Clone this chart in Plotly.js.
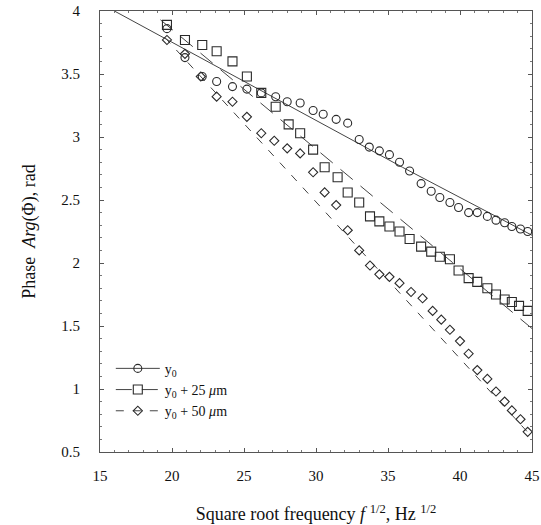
<!DOCTYPE html>
<html>
<head>
<meta charset="utf-8">
<script src="https://cdn.plot.ly/plotly-3.0.1.min.js"></script>
<style>html,body{margin:0;padding:0;background:#fff;}#chart{width:541px;height:525px;}</style>
</head>
<body>
<div id="chart"></div>
<script>
// Measured data: y0 (circles)
var x0 = [19.65, 20.9, 22.1, 23.1, 24.2, 25.2, 26.2, 27.2, 28.0, 28.9, 29.8, 30.5, 31.4, 32.2, 33.0, 33.7, 34.4, 35.1, 35.8, 36.5, 37.3, 38.0, 38.6, 39.3, 39.9, 40.6, 41.2, 41.9, 42.5, 43.1, 43.6, 44.2, 44.7];
var y0 = [3.86, 3.63, 3.48, 3.44, 3.40, 3.38, 3.35, 3.32, 3.28, 3.27, 3.21, 3.18, 3.14, 3.11, 2.98, 2.92, 2.89, 2.86, 2.80, 2.73, 2.63, 2.57, 2.52, 2.48, 2.44, 2.40, 2.40, 2.37, 2.34, 2.32, 2.29, 2.27, 2.25];
// y0 + 25 um (squares)
var x25 = [19.65, 20.9, 22.1, 23.1, 24.2, 25.2, 26.2, 27.2, 28.1, 28.9, 29.8, 30.6, 31.5, 32.2, 33.0, 33.75, 34.4, 35.1, 35.8, 36.5, 37.3, 38.0, 38.6, 39.3, 39.9, 40.6, 41.2, 41.9, 42.5, 43.1, 43.6, 44.1, 44.7];
var y25 = [3.89, 3.77, 3.73, 3.68, 3.60, 3.48, 3.35, 3.24, 3.10, 3.03, 2.90, 2.76, 2.68, 2.56, 2.48, 2.37, 2.33, 2.29, 2.25, 2.19, 2.13, 2.09, 2.05, 2.03, 1.94, 1.88, 1.85, 1.80, 1.75, 1.71, 1.69, 1.66, 1.62];
// y0 + 50 um (diamonds)
var x50 = [19.65, 20.9, 22.0, 23.1, 24.2, 25.2, 26.2, 27.1, 28.0, 28.9, 29.8, 30.6, 31.4, 32.2, 33.0, 33.75, 34.4, 35.1, 35.8, 36.6, 37.4, 38.1, 38.7, 39.3, 40.0, 40.6, 41.2, 41.9, 42.5, 43.1, 43.6, 44.2, 44.7];
var y50 = [3.77, 3.66, 3.48, 3.32, 3.28, 3.16, 3.03, 2.97, 2.91, 2.87, 2.72, 2.56, 2.46, 2.26, 2.10, 1.98, 1.91, 1.89, 1.84, 1.77, 1.72, 1.62, 1.55, 1.47, 1.38, 1.28, 1.15, 1.08, 0.98, 0.90, 0.83, 0.76, 0.66];
// Model (fit) curves
var fitX0 = [16, 30, 36, 45];
var fitY0 = [4.0, 3.13, 2.76, 2.22];
var fitX25 = [19.2, 45];
var fitY25 = [3.93, 1.48];
var fitX50 = [19.5, 45];
var fitY50 = [3.79, 0.62];
var names = ['y<sub>0</sub>', 'y<sub>0</sub> + 25 <i>μ</i>m', 'y<sub>0</sub> + 50 <i>μ</i>m'];

var ink = '#2a2a2a';
var serif = 'Liberation Serif, Times New Roman, serif';
var symbols = ['circle-open', 'square-open', 'diamond-open'];
var sizes = [8, 9, 7];
var dashes = ['solid', '16px,10px', '8px,9px'];
var xs = [x0, x25, x50], ys = [y0, y25, y50];
var fxs = [fitX0, fitX25, fitX50], fys = [fitY0, fitY25, fitY50];

var traces = [];
for (var i = 0; i < 3; i++) {
  traces.push({x: fxs[i], y: fys[i], mode: 'lines', showlegend: false,
    line: {color: '#444', width: 1, dash: dashes[i]}, hoverinfo: 'skip'});
  traces.push({x: xs[i], y: ys[i], mode: 'markers', showlegend: false,
    marker: {symbol: symbols[i], size: sizes[i], color: ink, line: {width: 1.1, color: ink}}});
}
for (var j = 0; j < 3; j++) {
  traces.push({x: [null], y: [null], mode: 'lines+markers', name: names[j],
    line: {color: '#444', width: 1, dash: dashes[j]},
    marker: {symbol: symbols[j], size: sizes[j], color: ink, line: {width: 1.1, color: ink}}});
}

var layout = {
  width: 541, height: 525,
  margin: {l: 100, r: 9, t: 11, b: 73},
  paper_bgcolor: '#fff', plot_bgcolor: '#fff',
  font: {family: serif, color: '#111', size: 14},
  showlegend: true,
  legend: {x: 0.025, y: 0.225, xanchor: 'left', yanchor: 'top', bgcolor: 'rgba(0,0,0,0)',
    font: {family: serif, size: 14, color: '#111'}, tracegroupgap: 0, itemwidth: 44},
  xaxis: {range: [15, 45], dtick: 5, tick0: 15, ticks: 'inside', ticklen: 4, tickcolor: '#555',
    showline: true, linecolor: '#555', linewidth: 1, mirror: 'ticks', showgrid: false, zeroline: false,
    minor: {dtick: 1, ticks: 'inside', ticklen: 2, tickcolor: '#777'},
    tickfont: {family: serif, size: 15, color: '#111'}, ticklabelstandoff: 10,
    title: {text: 'Square root frequency <i>f</i> <sup>1/2</sup>, Hz <sup>1/2</sup>', font: {family: serif, size: 18, color: '#111'}, standoff: 24}},
  yaxis: {range: [0.5, 4], dtick: 0.5, tick0: 0.5, ticks: 'inside', ticklen: 4, tickcolor: '#555',
    showline: true, linecolor: '#555', linewidth: 1, mirror: 'ticks', showgrid: false, zeroline: false,
    minor: {dtick: 0.1, ticks: 'inside', ticklen: 2, tickcolor: '#777'},
    tickfont: {family: serif, size: 15, color: '#111'}, ticklabelstandoff: 16,
    title: {text: 'Phase  <i>Arg</i>(Φ), rad', font: {family: serif, size: 18, color: '#111'}, standoff: 20}}
};

Plotly.newPlot('chart', traces, layout, {displayModeBar: false, staticPlot: true});
</script>
</body>
</html>
